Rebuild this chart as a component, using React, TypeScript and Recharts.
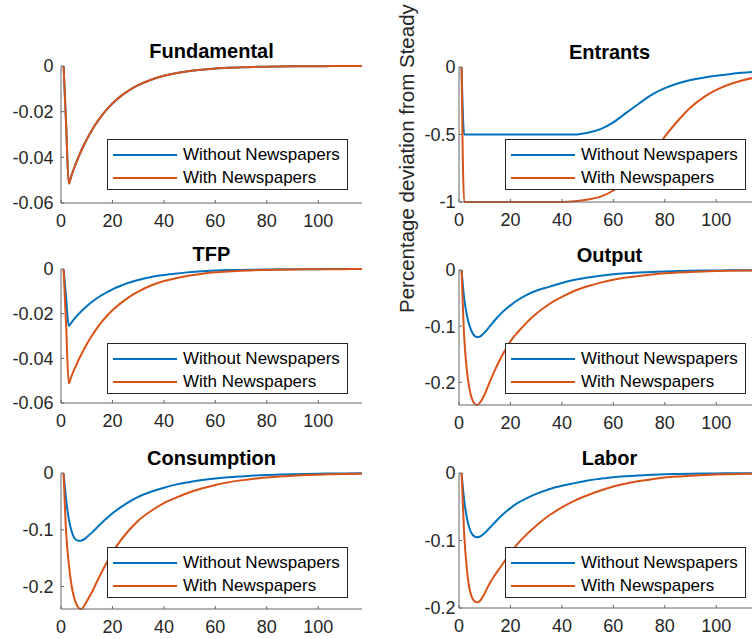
import React from 'react';
import { LineChart, Line, XAxis, YAxis, Legend } from 'recharts';

const FONT = '"Liberation Sans", Arial, Helvetica, sans-serif';
const BLUE = '#0072BD';
const ORANGE = '#D95319';
const AXIS = '#666666';

// periods (quarters after the shock)
const periods = [1, 2, 3, 4, 5, 6, 7, 8, 9, 10, 12, 14, 16, 18, 20, 23, 26, 30, 35, 40, 45, 50, 55, 60, 65, 70, 75, 80, 85, 90, 95, 100, 105, 110, 117];

const xTicks = [0, 20, 40, 60, 80, 100];
const seriesNames = ['Without Newspapers', 'With Newspapers'];

// Fundamental: same path with and without newspapers
const fundamental = [0, -0.0258, -0.0515, -0.0482, -0.045, -0.0421, -0.0394, -0.0368, -0.0344, -0.0322, -0.0281, -0.0246, -0.0215, -0.0188, -0.0164, -0.0134, -0.011, -0.0084, -0.006, -0.0043, -0.0031, -0.0022, -0.0016, -0.0011, -0.0008, -0.0006, -0.0004, -0.0003, -0.0002, -0.00015, -0.0001, -0.00008, -0.00005, -0.00004, -0.00003];

const entrantsWithout = [0, -0.5, -0.5, -0.5, -0.5, -0.5, -0.5, -0.5, -0.5, -0.5, -0.5, -0.5, -0.5, -0.5, -0.5, -0.5, -0.5, -0.5, -0.5, -0.5, -0.5, -0.487, -0.46, -0.41, -0.34, -0.27, -0.205, -0.157, -0.122, -0.097, -0.079, -0.065, -0.053, -0.043, -0.033];
const entrantsWith = [0, -1, -1, -1, -1, -1, -1, -1, -1, -1, -1, -1, -1, -1, -1, -1, -1, -1, -1, -1, -0.995, -0.982, -0.96, -0.915, -0.84, -0.75, -0.64, -0.515, -0.4, -0.3, -0.225, -0.17, -0.13, -0.1, -0.07];

const tfpWithout = [0, -0.0128, -0.0255, -0.024, -0.0226, -0.0212, -0.02, -0.0188, -0.0177, -0.0167, -0.0148, -0.0131, -0.0116, -0.0103, -0.0091, -0.0076, -0.0063, -0.0049, -0.0036, -0.0027, -0.002, -0.0014, -0.001, -0.0007, -0.0005, -0.0004, -0.0003, -0.0002, -0.00015, -0.0001, -0.00008, -0.00006, -0.00004, -0.00003, -0.00002];
const tfpWith = [0, -0.0256, -0.0512, -0.0482, -0.0454, -0.0428, -0.0403, -0.038, -0.0358, -0.0337, -0.0299, -0.0265, -0.0235, -0.0208, -0.0185, -0.0155, -0.0129, -0.0101, -0.0074, -0.0054, -0.004, -0.0029, -0.0021, -0.0015, -0.0011, -0.0008, -0.0006, -0.0004, -0.0003, -0.0002, -0.00015, -0.0001, -0.00008, -0.00006, -0.00004];

const outputWithout = [0, -0.05, -0.079, -0.098, -0.11, -0.117, -0.1195, -0.119, -0.1155, -0.111, -0.1, -0.089, -0.079, -0.0705, -0.063, -0.053, -0.045, -0.037, -0.03, -0.023, -0.0175, -0.0133, -0.0101, -0.0076, -0.0058, -0.0044, -0.0034, -0.0026, -0.002, -0.0015, -0.0011, -0.0008, -0.0006, -0.0004, -0.0003];
const outputWith = [0, -0.118, -0.176, -0.21, -0.229, -0.238, -0.2404, -0.237, -0.23, -0.221, -0.199, -0.178, -0.159, -0.142, -0.127, -0.11, -0.095, -0.078, -0.061, -0.048, -0.037, -0.029, -0.0225, -0.0175, -0.0135, -0.0105, -0.008, -0.006, -0.0045, -0.0034, -0.0025, -0.0018, -0.0013, -0.001, -0.0007];

const consumptionWithout = [0, -0.047, -0.08, -0.101, -0.113, -0.118, -0.1195, -0.119, -0.117, -0.113, -0.105, -0.096, -0.087, -0.079, -0.071, -0.061, -0.052, -0.042, -0.033, -0.026, -0.02, -0.016, -0.0125, -0.0098, -0.0076, -0.006, -0.0046, -0.0036, -0.0028, -0.0021, -0.0016, -0.0012, -0.0009, -0.0007, -0.0005];
const consumptionWith = [0, -0.105, -0.159, -0.195, -0.218, -0.231, -0.2385, -0.2395, -0.234, -0.226, -0.21, -0.191, -0.173, -0.156, -0.14, -0.12, -0.103, -0.084, -0.067, -0.053, -0.043, -0.034, -0.027, -0.021, -0.0165, -0.013, -0.01, -0.0078, -0.006, -0.0047, -0.0037, -0.0029, -0.0022, -0.0017, -0.0012];

const laborWithout = [0, -0.04, -0.065, -0.081, -0.09, -0.094, -0.0953, -0.0945, -0.092, -0.089, -0.081, -0.073, -0.065, -0.058, -0.052, -0.044, -0.038, -0.031, -0.024, -0.019, -0.015, -0.011, -0.0085, -0.0063, -0.0048, -0.0036, -0.0027, -0.002, -0.0015, -0.0011, -0.0008, -0.0006, -0.0004, -0.0003, -0.0002];
const laborWith = [0, -0.09, -0.14, -0.17, -0.184, -0.19, -0.1916, -0.19, -0.185, -0.178, -0.163, -0.151, -0.14, -0.129, -0.118, -0.104, -0.092, -0.078, -0.063, -0.051, -0.041, -0.033, -0.026, -0.02, -0.0155, -0.012, -0.0093, -0.0068, -0.0052, -0.004, -0.003, -0.0022, -0.0017, -0.0013, -0.0009];

const PLOT_W = 301;
const Y_AXIS_W = 61;
const TOP_PAD = 30;
const X_AXIS_H = 35;

function MatlabLegend(props: any) {
  // keep plotting order (recharts sorts legend items by name)
  const payload = [...(props.payload || [])].sort(
    (a: any, b: any) => seriesNames.indexOf(a.value) - seriesNames.indexOf(b.value)
  );
  return (
    <div
      style={{
        width: 241,
        height: 51,
        boxSizing: 'border-box',
        border: '1px solid #262626',
        background: '#fff',
        position: 'relative',
        fontFamily: FONT,
        fontSize: 17,
        color: '#000',
      }}
    >
      {payload.map((p: any, i: number) => (
        <div
          key={p.value}
          style={{
            position: 'absolute',
            left: 5,
            top: 4 + i * 22.7,
            height: 22,
            lineHeight: '22px',
            display: 'flex',
            alignItems: 'center',
            whiteSpace: 'nowrap',
          }}
        >
          <span style={{ display: 'inline-block', width: 64, height: 2, background: p.color }} />
          <span style={{ marginLeft: 6 }}>{p.value}</span>
        </div>
      ))}
    </div>
  );
}

interface PanelProps {
  title: string;
  without: number[];
  withN: number[];
  domain: [number, number];
  ticks: number[];
  left: number;
  top: number;
  h: number;
  tickGap: number;
  legendTop: number;
}

function Panel({ title, without, withN, domain, ticks, left, top, h, tickGap, legendTop }: PanelProps) {
  const data = periods.map((x, i) => ({ x, without: without[i], with: withN[i] }));
  const chartLeft = left - Y_AXIS_W;
  const chartTop = top - TOP_PAD;
  const tickStyle = { fill: '#262626', fontSize: 18, fontFamily: FONT };

  return (
    <>
      <div
        style={{
          position: 'absolute',
          left,
          top: top - 25,
          width: PLOT_W,
          textAlign: 'center',
          fontFamily: FONT,
          fontWeight: 'bold',
          fontSize: 20,
          lineHeight: '20px',
          color: '#000',
        }}
      >
        {title}
      </div>
      <div style={{ position: 'absolute', left: chartLeft, top: chartTop }}>
        <LineChart
          width={Y_AXIS_W + PLOT_W + 5}
          height={TOP_PAD + h + X_AXIS_H}
          data={data}
          margin={{ top: TOP_PAD, right: 5, bottom: 0, left: 0 }}
        >
          <XAxis
            type="number"
            dataKey="x"
            domain={[0, 117]}
            ticks={xTicks}
            interval={0}
            height={X_AXIS_H}
            tickSize={-3}
            tickMargin={14}
            stroke={AXIS}
            tick={tickStyle}
          />
          <YAxis
            type="number"
            domain={domain}
            ticks={ticks}
            interval={0}
            width={Y_AXIS_W}
            tickSize={-3}
            tickMargin={tickGap}
            stroke={AXIS}
            tick={tickStyle}
          />
          <Line type="monotone" dataKey="without" name={seriesNames[0]} stroke={BLUE} strokeWidth={2} dot={false} isAnimationActive={false} />
          <Line type="monotone" dataKey="with" name={seriesNames[1]} stroke={ORANGE} strokeWidth={2} dot={false} isAnimationActive={false} />
          <Legend
            layout="horizontal"
            verticalAlign="middle"
            align="center"
            wrapperStyle={{ left: 107, top: legendTop - chartTop, width: 241, height: 51 }}
            content={(p: any) => <MatlabLegend payload={p.payload} />}
          />
        </LineChart>
      </div>
    </>
  );
}

export default function App() {
  return (
    <div
      style={{
        position: 'absolute',
        left: 0,
        top: 0,
        width: 752,
        height: 639,
        overflow: 'hidden',
        background: '#fff',
      }}
    >
      <Panel title="Fundamental" without={fundamental} withN={fundamental} domain={[-0.06, 0]} ticks={[-0.06, -0.04, -0.02, 0]} left={61} top={66} h={137} tickGap={10.5} legendTop={139} />
      <Panel title="Entrants" without={entrantsWithout} withN={entrantsWith} domain={[-1, 0]} ticks={[-1, -0.5, 0]} left={459} top={67} h={135} tickGap={6.5} legendTop={139} />
      <Panel title="TFP" without={tfpWithout} withN={tfpWith} domain={[-0.06, 0]} ticks={[-0.06, -0.04, -0.02, 0]} left={61} top={269} h={134} tickGap={10.5} legendTop={343} />
      <Panel title="Output" without={outputWithout} withN={outputWith} domain={[-0.2404, 0]} ticks={[-0.2, -0.1, 0]} left={459} top={270} h={135} tickGap={6.5} legendTop={343} />
      <Panel title="Consumption" without={consumptionWithout} withN={consumptionWith} domain={[-0.2395, 0]} ticks={[-0.2, -0.1, 0]} left={61} top={473} h={136} tickGap={10.5} legendTop={547} />
      <Panel title="Labor" without={laborWithout} withN={laborWith} domain={[-0.2, 0]} ticks={[-0.2, -0.1, 0]} left={459} top={473} h={135} tickGap={6.5} legendTop={547} />
      <svg width={752} height={639} style={{ position: 'absolute', left: 0, top: 0, pointerEvents: 'none' }}>
        <text transform="translate(414 313) rotate(-90)" fontFamily={FONT} fontSize={20.5} fill="#262626">
          Percentage deviation from Steady
        </text>
      </svg>
    </div>
  );
}
